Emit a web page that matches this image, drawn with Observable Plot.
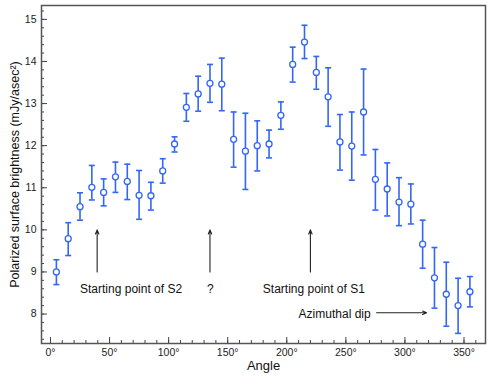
<!DOCTYPE html>
<html>
<head>
<meta charset="utf-8">
<script src="https://cdn.jsdelivr.net/npm/d3@7"></script>
<script src="https://cdn.jsdelivr.net/npm/@observablehq/plot@0.6"></script>
<style>
  html, body { margin: 0; padding: 0; background: #fff; }
</style>
</head>
<body>
<div id="chart"></div>
<script>
const angles = [5,15,25,35,45,55,65,75,85,95,105,115,125,135,145,155,165,175,185,195,205,215,225,235,245,255,265,275,285,295,305,315,325,335,345,355];
const values = [9.00,9.79,10.55,11.01,10.89,11.26,11.15,10.82,10.81,11.40,12.04,12.91,13.23,13.48,13.46,12.15,11.87,12.00,12.04,12.72,13.93,14.46,13.74,13.16,12.09,11.99,12.80,11.20,10.97,10.66,10.61,9.66,8.86,8.47,8.20,8.53];
const upper = [9.29,10.17,10.88,11.53,11.21,11.61,11.56,11.41,11.13,11.69,12.21,13.24,13.65,13.93,14.08,12.80,12.77,12.59,12.37,13.04,14.34,14.86,14.12,13.85,12.74,12.80,13.82,11.91,11.59,11.24,11.09,10.23,9.58,9.23,8.85,8.89];
const lower = [8.70,9.39,10.23,10.71,10.57,10.89,10.72,10.25,10.47,11.11,11.85,12.58,12.82,13.03,12.83,11.49,10.96,11.40,11.71,12.39,13.51,14.07,13.34,12.46,11.42,11.18,11.78,10.47,10.33,10.10,10.14,9.09,8.14,7.71,7.54,8.17];

const xMajorTicks = [0,50,100,150,200,250,300,350];
const xMinorTicks = d3.range(0, 361, 10);
const yMajorTicks = [8,9,10,11,12,13,14,15];
const yMinorTicks = d3.range(37, 77, 1).map(d => d / 5);

const arrowX1 = [39.5, 135, 220, 276];
const arrowX2 = [39.5, 135, 220, 318.4];
const arrowY1 = [9.0, 9.0, 9.0, 8.03];
const arrowY2 = [10.0, 10.0, 10.0, 8.03];

const noteLabels = ["Starting point of S2", "?", "Starting point of S1", "Azimuthal dip"];
const noteX = [68.2, 135.4, 222.9, 240.5];
const noteY = [8.6, 8.6, 8.6, 8.0];

const xTitle = "Angle";
const yTitle = "Polarized surface brightness (mJy/asec²)";

const data = angles.map((a, i) => ({angle: a, value: values[i], hi: upper[i], lo: lower[i]}));
const arrows = arrowX1.map((x, i) => ({x1: x, x2: arrowX2[i], y1: arrowY1[i], y2: arrowY2[i]}));
const notes = noteLabels.map((t, i) => ({text: t, x: noteX[i], y: noteY[i]}));

const blue = "#3366f5";
const capSymbol = {
  draw(context, size) {
    const w = Math.sqrt(size / Math.PI);
    context.moveTo(-w, 0);
    context.lineTo(w, 0);
  }
};

const plot = Plot.plot({
  width: 491,
  height: 384,
  marginLeft: 41,
  marginRight: 6,
  marginTop: 5,
  marginBottom: 41,
  style: {fontFamily: "'Liberation Sans', Arial, sans-serif", fontSize: "10.5px", color: "#222", background: "#fff"},
  x: {domain: [-7.6, 368.2], label: null},
  y: {domain: [7.3, 15.33], label: null},
  marks: [
    Plot.axisX(xMinorTicks, {tickSize: -3, tickFormat: () => "", stroke: "#444", label: null}),
    Plot.axisX(xMajorTicks, {tickSize: -6, tickPadding: 11, tickFormat: d => `${d}°`, stroke: "#444", fill: "#222", label: null}),
    Plot.axisY(yMinorTicks, {tickSize: -3, tickFormat: () => "", stroke: "#444", label: null}),
    Plot.axisY(yMajorTicks, {tickSize: -6, tickPadding: 11, stroke: "#444", fill: "#222", label: null}),
    Plot.frame({stroke: "#555", strokeWidth: 1.5}),
    Plot.ruleX(data, {x: "angle", y1: "lo", y2: "hi", stroke: blue, strokeWidth: 1.6}),
    Plot.dot(data, {x: "angle", y: "hi", symbol: capSymbol, r: 3, fill: "none", stroke: blue, strokeWidth: 1.6}),
    Plot.dot(data, {x: "angle", y: "lo", symbol: capSymbol, r: 3, fill: "none", stroke: blue, strokeWidth: 1.6}),
    Plot.dot(data, {x: "angle", y: "value", r: 3, fill: "white", stroke: blue, strokeWidth: 1.3}),
    Plot.arrow(arrows, {x1: "x1", y1: "y1", x2: "x2", y2: "y2", stroke: "#222", strokeWidth: 1.1, headLength: 6, headAngle: 45}),
    Plot.text(notes, {x: "x", y: "y", text: "text", fontSize: 12, fill: "#111", lineAnchor: "middle"}),
    Plot.text([xTitle], {frameAnchor: "bottom", dy: 22, fontSize: 13, fill: "#111", lineAnchor: "middle"}),
    Plot.text([yTitle], {frameAnchor: "left", dx: -27, rotate: -90, fontSize: 12.5, fill: "#111", textAnchor: "middle", lineAnchor: "middle"})
  ]
});

document.getElementById("chart").appendChild(plot);
</script>
</body>
</html>
